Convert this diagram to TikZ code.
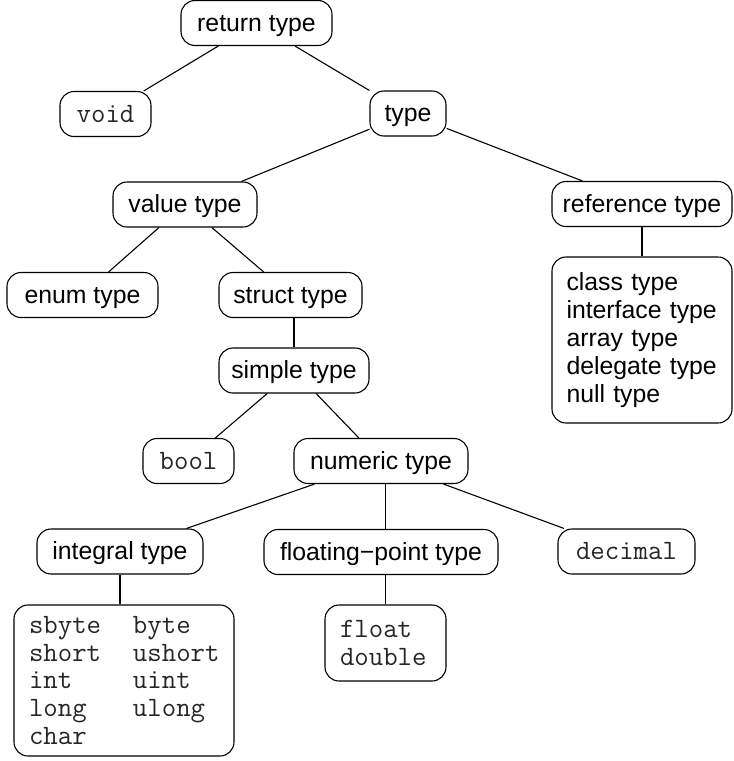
\documentclass[tikz,border=0pt]{standalone}
\usepackage{fontspec}
\setmainfont{Liberation Sans}
\begin{document}
\begin{tikzpicture}[x=1pt, y=-1pt, line width=1.1pt,
  every node/.style={draw, rounded corners=14pt, inner sep=0pt},
  sansnode/.style={font=\fontsize{24.8}{28}\selectfont, text height=20pt, text depth=4pt, minimum height=45pt},
  mononode/.style={font=\ttfamily\fontsize{28}{27.7}\selectfont, text=black!85, text height=17pt, text depth=1pt, minimum height=45pt},
  sanslist/.style={font=\fontsize{24.8}{28}\selectfont, align=left},
  monolist/.style={font=\ttfamily\fontsize{28}{27.7}\selectfont, text=black!85, align=left}]
\useasboundingbox (0,0) rectangle (734,761);

% tree nodes
\node[sansnode, minimum width=151pt] (ret) at (256.5,23) {return type};
\node[mononode, minimum width=91pt] (void) at (105.5,114) {void};
\node[sansnode, minimum width=76pt] (type) at (408,113.5) {type};
\node[sansnode, minimum width=144pt] (value) at (185,204.5) {value type};
\node[sansnode, minimum width=180pt] (ref) at (642,204) {reference type};
\node[sanslist, text width=151pt, inner xsep=14.5pt, minimum height=166pt] (reflist) at (642,340)
  {class type\\interface type\\array type\\delegate type\\null type};
\node[sansnode, minimum width=151pt] (enum) at (82.5,295) {enum type};
\node[sansnode, minimum width=143pt] (struct) at (290.5,295) {struct type};
\node[sansnode, minimum width=150pt] (simple) at (294,370.5) {simple type};
\node[mononode, minimum width=91pt] (bool) at (188.5,461) {bool};
\node[sansnode, minimum width=174pt] (numeric) at (381,461) {numeric type};
\node[sansnode, minimum width=166pt] (integral) at (120,551.5) {integral type};
\node[sansnode, minimum width=234pt] (floating) at (381,552) {floating−point type};
\node[mononode, minimum width=137pt] (decimal) at (626.5,551.5) {decimal};
\node[monolist, text width=190pt, inner xsep=15pt, minimum height=151pt] (intlist) at (124,680.5)
  {\makebox[104pt][l]{sbyte}byte\\
   \makebox[104pt][l]{short}ushort\\
   \makebox[104pt][l]{int}uint\\
   \makebox[104pt][l]{long}ulong\\
   char};
\node[monolist, text width=91pt, inner xsep=15pt, minimum height=76pt] (floatlist) at (385.5,643)
  {float\\double};

% connectors
\draw (ret) -- (void);
\draw (ret) -- (type);
\draw (type) -- (value);
\draw (type) -- (ref);
\draw (ref) -- (reflist);
\draw (value) -- (enum);
\draw (value) -- (struct);
\draw (struct.south -| simple.north) -- (simple.north);
\draw (simple) -- (bool);
\draw (simple) -- (numeric);
\draw (numeric) -- (integral);
\draw (numeric.south -| floatlist.north) -- (floating.north -| floatlist.north);
\draw (numeric) -- (decimal);
\draw (integral.south) -- (integral.south |- intlist.north);
\draw (floating.south -| floatlist.north) -- (floatlist.north);
\end{tikzpicture}
\end{document}
